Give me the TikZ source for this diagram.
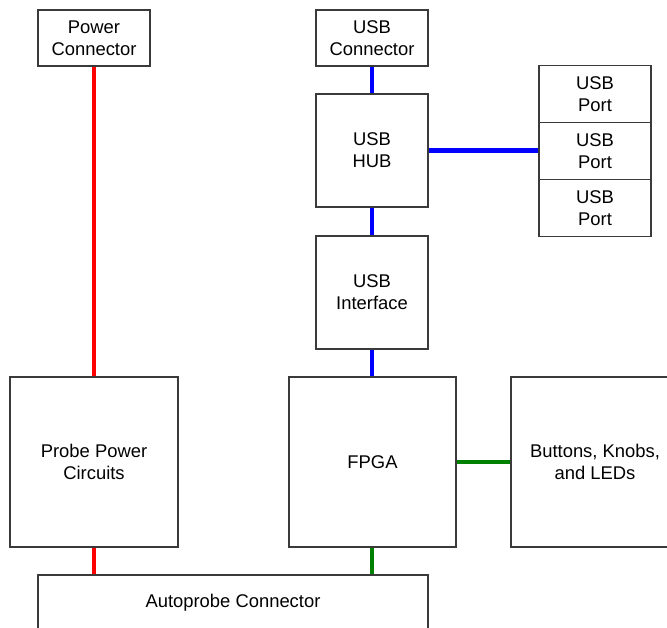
\documentclass[tikz,border=0pt]{standalone}
\usepackage{fontspec}
\setmainfont{Liberation Sans}
\usepackage{tikz}
\usetikzlibrary{positioning}
\definecolor{BoxEdge}{HTML}{3A3A3A}
\definecolor{BusGreen}{HTML}{008000}

\begin{document}
\begin{tikzpicture}[x=1pt,y=-1pt,
  every node/.style={font=\fontsize{18.4}{21.7}\selectfont},
  blk/.style={draw=BoxEdge,line width=1.3pt,align=center,inner sep=0pt},
  pwrbus/.style={line width=4.5pt,red},
  usbbus/.style={line width=4.5pt,blue},
  iobus/.style={line width=4.5pt,BusGreen}]
  \useasboundingbox (0,0) rectangle (667,628);
  \clip (0,0) rectangle (667,628);
  % top row
  \node[blk,minimum width=112pt,minimum height=56pt] (pwrcon) at (94,38) {Power\\Connector};
  \node[blk,minimum width=112pt,minimum height=56pt] (usbcon) at (372,38) {USB\\Connector};
  % usb chain
  \node[blk,minimum width=112pt,minimum height=113pt] (hub) at (372,150.5) {USB\\HUB};
  \node[blk,minimum width=112pt,minimum height=113pt] (usbif) at (372,292.5) {USB\\Interface};
  \node[blk,minimum width=112pt,minimum height=57pt] (port1) at (595,94) {USB\\Port};
  \node[blk,minimum width=112pt,minimum height=57pt] (port2) at (595,151) {USB\\Port};
  \node[blk,minimum width=112pt,minimum height=57pt] (port3) at (595,208) {USB\\Port};
  % lower row
  \node[blk,minimum width=168pt,minimum height=170pt] (probe) at (94,462) {Probe Power\\Circuits};
  \node[blk,minimum width=167pt,minimum height=170pt] (fpga) at (372.5,462) {FPGA};
  \node[blk,minimum width=168pt,minimum height=170pt] (btns) at (595,462) {Buttons, Knobs,\\and LEDs};
  \node[blk,minimum width=390pt,minimum height=56pt] (auto) at (233,603) {Autoprobe Connector};
  % buses
  \draw[pwrbus] (pwrcon) -- (probe);
  \draw[pwrbus] (probe.south) -- (probe.south |- auto.north);
  \draw[usbbus] (usbcon) -- (hub);
  \draw[usbbus] (hub) -- (usbif);
  \draw[usbbus] (hub) -- (hub -| port2.west);
  \draw[usbbus] (usbif) -- (usbif |- fpga.north);
  \draw[iobus] (fpga) -- (btns);
  \draw[iobus] (usbif |- fpga.south) -- (usbif |- auto.north);
\end{tikzpicture}
\end{document}
